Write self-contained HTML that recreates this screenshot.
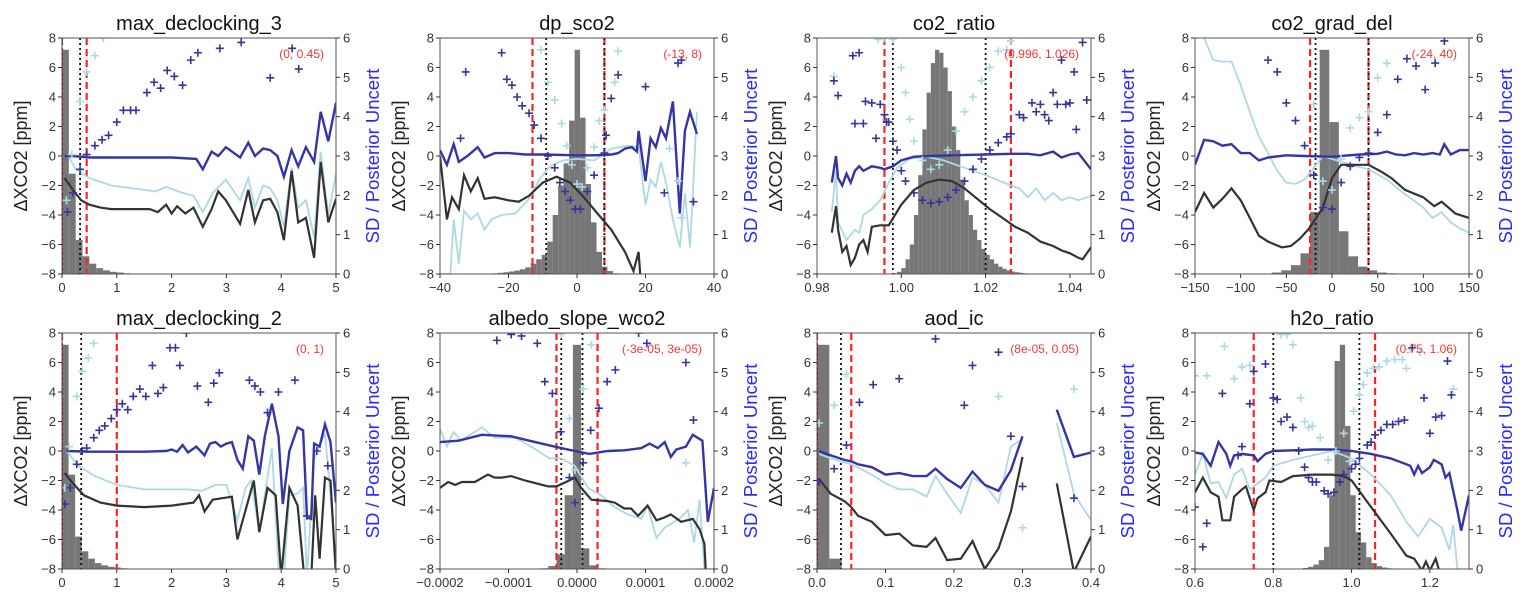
<!DOCTYPE html>
<html><head><meta charset="utf-8"><style>
body{margin:0;background:#fff}
svg{display:block;font-family:"Liberation Sans",sans-serif}
</style></head><body>
<svg id="fig" width="1523" height="603" viewBox="0 0 1523 603"></svg>
<script>
// ---- data (left axis units ppm -8..8; markers drawn in same frame) ----
const titles=["max_declocking_3","dp_sco2","co2_ratio","co2_grad_del","max_declocking_2","albedo_slope_wco2","aod_ic","h2o_ratio"];
const xDomains=[[0,5],[-40,40],[0.98,1.045],[-150,150],[0,5],[-0.0002,0.0002],[0,0.4],[0.6,1.3]];
const xTicks=[[0,1,2,3,4,5],[-40,-20,0,20,40],[0.98,1.00,1.02,1.04],[-150,-100,-50,0,50,100,150],[0,1,2,3,4,5],[-0.0002,-0.0001,0,0.0001,0.0002],[0,0.1,0.2,0.3,0.4],[0.6,0.8,1.0,1.2]];
const xTickLabels=[["0","1","2","3","4","5"],["−40","−20","0","20","40"],["0.98","1.00","1.02","1.04"],["−150","−100","−50","0","50","100","150"],["0","1","2","3","4","5"],["−0.0002","−0.0001","0.0000","0.0001","0.0002"],["0.0","0.1","0.2","0.3","0.4"],["0.6","0.8","1.0","1.2"]];
const yTicksL=[-8,-6,-4,-2,0,2,4,6,8];
const yTicksR=[0,1,2,3,4,5,6];
const annotations=["(0, 0.45)","(-13, 8)","(0.996, 1.026)","(-24, 40)","(0, 1)","(-3e-05, 3e-05)","(8e-05, 0.05)","(0.75, 1.06)"];
const redLines=[[0,0.45],[-13,8],[0.996,1.026],[-24,40],[0,1],[-3e-5,3e-5],[0,0.05],[0.75,1.06]];
const dotLines=[[0,0.33],[-9,8],[0.998,1.02],[-18,40],[0,0.35],[-2.3e-5,0.8e-5],[0,0.035],[0.8,1.02]];
// histogram: start, bin width, bar tops (ppm)
const histStart=[0,-26.3,0.998,-66,0,-5.4e-5,0,0.862];
const histWidth=[0.125,1.6,0.001,10.5,0.12,1.2e-5,0.018,0.0135];
const histTops=[
[7.2,-1.2,-5.7,-6.8,-7.3,-7.6,-7.75,-7.85,-7.9,-7.95,-7.97,-7.98,-7.99],
[-7.97,-7.95,-7.92,-7.88,-7.83,-7.77,-7.68,-7.55,-7.3,-7.0,-6.7,-5.8,-4.0,-2.0,-0.5,2.4,7.2,2.6,-1.9,-4.5,-6.5,-7.5,-7.8,-7.95],
[-7.95,-7.85,-7.6,-7.0,-6.0,-4.0,-1.3,1.8,4.3,6.3,7.2,7.0,6.0,4.4,2.0,0.4,-1.6,-3.0,-4.0,-5.0,-5.7,-6.3,-6.7,-7.0,-7.3,-7.5,-7.65,-7.75,-7.83,-7.88,-7.92,-7.95,-7.97,-7.98,-7.99],
[-7.9,-7.75,-7.4,-6.6,-3.8,7.2,2.3,-5.1,-6.8,-7.5,-7.75,-7.9,-7.95],
[7.2,-1.6,-5.8,-6.8,-7.3,-7.6,-7.75,-7.85,-7.9,-7.95,-7.97],
[-7.95,-7.8,-7.0,-3.0,7.2,-6.6,-7.75,-7.95],
[7.2,-7.3],
[-7.97,-7.93,-7.85,-7.7,-7.4,-6.5,-3.0,6.1,7.2,1.7,-3.0,-5.5,-6.2,-7.2,-7.6,-7.8,-7.9,-7.95]];
const lineNavy=[
[[0.05,0],[0.2,0],[0.5,-0.1],[1,-0.1],[2,-0.1],[2.45,-0.2],[2.57,-0.9],[2.73,0.3],[2.85,0],[2.99,0.6],[3.25,-0.1],[3.4,0.9],[3.52,0],[3.67,0.5],[3.8,0.4],[3.93,0],[4.05,-1.4],[4.19,0.4],[4.31,-0.7],[4.45,0.6],[4.6,-0.4],[4.72,3.0],[4.86,1.0],[5,3.6]],
[[-40,0.4],[-38,-0.6],[-36,0.8],[-34.5,-0.4],[-32,0],[-29,0.6],[-27,-0.1],[-24,0.2],[-20,0.2],[-15,0.1],[-10,0.1],[0,0.05],[5,0.05],[10,0.1],[12,0.2],[14,0.5],[16,0.6],[17.5,0.3],[18,1.7],[20,-1.7],[21.5,1.2],[23,0.6],[24.5,1.9],[26,1.2],[28,3.7],[30,-3.9],[31.5,1.7],[33,3.0],[35,1.5]],
[[0.9835,-1.8],[0.9845,0],[0.985,-1.5],[0.986,-2.0],[0.987,-1.2],[0.988,-1.8],[0.989,-1.0],[0.990,-0.7],[0.991,-1.0],[0.993,-0.7],[0.995,-0.8],[0.996,-0.9],[0.998,-0.7],[1.000,-0.3],[1.003,-0.05],[1.007,0],[1.012,0.05],[1.02,0.1],[1.026,0.15],[1.03,0.15],[1.033,0.05],[1.036,0.3],[1.038,-0.1],[1.04,0.1],[1.042,0.2],[1.045,-0.9]],
[[-150,-0.6],[-140,1.1],[-130,1.0],[-120,0.7],[-110,0.8],[-100,0.2],[-90,0.2],[-80,-0.3],[-70,-0.1],[-50,0.05],[-30,0],[0,-0.05],[30,0.1],[50,0.15],[60,0.3],[70,0.1],[80,0.05],[90,0.2],[100,0.1],[110,0.2],[118,0.1],[123,0.8],[130,0.1],[140,0.4],[150,0.4]],
[[0.08,0],[0.5,-0.05],[1,-0.05],[1.5,-0.05],[1.9,0],[2.0,0.1],[2.1,-0.05],[2.2,0.4],[2.3,-0.1],[2.45,0.3],[2.6,-0.3],[2.7,0.5],[2.8,0.6],[2.9,0.3],[3.0,0.5],[3.1,0.6],[3.2,-0.6],[3.3,-1.2],[3.4,1.0],[3.5,0.7],[3.6,-1.6],[3.7,1.0],[3.83,3.2],[3.95,1.0],[4.03,-3.6],[4.15,0],[4.3,1.6],[4.4,1.4],[4.47,-4.5],[4.55,-4.6],[4.6,0.5],[4.7,0.3],[4.8,1.8],[4.9,0.6],[5,-3.5]],
[[-20e-5,0.6],[-17.3e-5,0.7],[-13.9e-5,1.1],[-9.6e-5,1.0],[-5.2e-5,0.5],[-2.3e-5,0.2],[-0.3e-5,0],[1.8e-5,-0.2],[4.5e-5,0],[6.9e-5,0.05],[9.4e-5,0.2],[10.6e-5,0.5],[11.8e-5,0.2],[12.8e-5,0.6],[13.7e-5,-0.4],[14.5e-5,0.1],[15.9e-5,0.3],[16.9e-5,1.1],[18.3e-5,0.7],[19.1e-5,-4.8],[20e-5,-2.5]],
[[0.003,0],[0.02,-0.3],[0.04,-0.6],[0.05,-0.7],[0.06,-0.9],[0.08,-1.1],[0.1,-1.6],[0.12,-1.5],[0.14,-1.7],[0.16,-1.7],[0.173,-1.2],[0.19,-1.9],[0.21,-2.5],[0.227,-1.4],[0.245,-2.3],[0.265,-2.7],[0.283,-1.3],[0.3,1.0],null,[0.35,2.8],[0.375,-0.4],[0.4,-0.1]],
[[0.6,-0.1],[0.62,-0.2],[0.64,-1.0],[0.66,0.6],[0.68,-0.2],[0.69,-1.0],[0.7,-0.3],[0.72,-0.2],[0.75,-0.3],[0.76,-0.7],[0.78,-0.2],[0.8,0],[0.85,0.05],[0.9,0.1],[0.95,0.1],[1.0,0],[1.05,-0.2],[1.1,-0.5],[1.15,-1.0],[1.16,-1.6],[1.17,-1.0],[1.18,-1.5],[1.2,-1.1],[1.21,-0.6],[1.23,-0.9],[1.24,-1.8],[1.25,-1.5],[1.27,-4.0],[1.28,-5.4],[1.3,-3.0]]];
const lineLight=[
[[0.1,0.1],[0.25,-0.9],[0.5,-1.5],[0.9,-2.0],[1.3,-2.2],[1.7,-2.4],[1.9,-2.1],[2.2,-2.5],[2.4,-2.7],[2.57,-3.8],[2.75,-2.5],[2.99,-1.6],[3.25,-3.0],[3.4,-1.5],[3.52,-3.5],[3.67,-2.0],[3.8,-2.2],[3.93,-3.0],[4.05,-4.8],[4.19,-0.8],[4.31,-3.5],[4.45,-3.0],[4.6,-5.5],[4.72,0.3],[4.86,-4.0],[5,-1.2]],
[[-40,-8],[-37,-8],[-36,-4.3],[-34.5,-7.3],[-33,-3.7],[-31,-4.3],[-29,-3.9],[-27,-5.0],[-25,-4.3],[-22,-4.0],[-18,-3.9],[-14,-2.9],[-11,-1.6],[-8,-0.7],[-4,-0.3],[0,-0.2],[5,-0.3],[10,0.5],[15,0.7],[18,0.6],[20,-3.3],[21.5,-1.6],[23,-2.1],[24.5,-0.4],[26,-1.8],[28,-4.3],[30,-6.2],[31.5,-2.5],[33,-6.2],[35,3.0]],
[[0.9835,-3.8],[0.9845,-1.0],[0.985,-4.5],[0.987,-5.7],[0.989,-5.0],[0.990,-5.2],[0.991,-4.0],[0.993,-3.6],[0.995,-3.0],[0.997,-1.8],[0.999,-0.8],[1.002,-0.2],[1.006,-0.05],[1.010,-0.3],[1.014,-0.7],[1.02,-1.3],[1.026,-2.0],[1.028,-2.2],[1.030,-2.8],[1.032,-2.2],[1.034,-3.0],[1.036,-2.5],[1.038,-3.0],[1.04,-2.8],[1.042,-3.0],[1.045,-2.7]],
[[-150,9],[-140,8],[-130,6.5],[-120,6.4],[-110,6.4],[-100,4.8],[-90,3.0],[-80,1.3],[-70,0.2],[-60,-1.0],[-50,-1.8],[-40,-1.9],[-30,-1.6],[-20,-0.8],[-10,0],[0,-0.2],[20,-0.6],[40,-0.9],[60,-1.6],[80,-2.6],[100,-3.5],[110,-4.2],[120,-3.8],[130,-4.5],[140,-4.9],[150,-5.2]],
[[0.08,0],[0.3,-1.0],[0.6,-1.7],[1,-2.3],[1.5,-2.6],[2,-2.6],[2.3,-2.6],[2.55,-2.7],[2.8,-2.3],[3.0,-2.3],[3.2,-4.7],[3.35,-2.5],[3.45,-2.0],[3.6,-5.5],[3.7,-3.0],[3.83,0.2],[3.95,-8],[4.05,-8.5],[4.15,-3.0],[4.3,-2.9],[4.4,-2.5],[4.47,-8.5],[4.6,-0.5],[4.8,1.2],[4.9,-3.0],[5,-8]],
[[-20e-5,1.5],[-19e-5,0.3],[-18e-5,1.3],[-17e-5,0.7],[-13.9e-5,1.6],[-12e-5,0.9],[-9e-5,0.9],[-6.7e-5,0.3],[-4e-5,-0.5],[-2.3e-5,-0.5],[-0.3e-5,-1.0],[1.6e-5,-2.5],[3.5e-5,-3.0],[5.5e-5,-3.8],[7.4e-5,-4.3],[9.4e-5,-4.6],[10.3e-5,-3.7],[11.6e-5,-5.9],[12.8e-5,-5.2],[15.2e-5,-4.5],[16.2e-5,-4.0],[17.1e-5,-6.2],[17.9e-5,-3.3],[18.6e-5,-8]],
[[0.003,-0.2],[0.02,-0.5],[0.05,-0.9],[0.08,-1.6],[0.1,-2.2],[0.12,-2.6],[0.14,-2.6],[0.16,-3.1],[0.173,-1.7],[0.19,-2.9],[0.21,-4.2],[0.227,-1.8],[0.245,-2.3],[0.265,-3.5],[0.283,0.3],[0.3,0.8],null,[0.35,1.9],[0.375,-2.9],[0.4,-4.7]],
[[0.6,-1.6],[0.62,-0.2],[0.64,-2.2],[0.66,-2.1],[0.68,-3.2],[0.7,-1.6],[0.72,-1.2],[0.74,-2.6],[0.76,-2.2],[0.78,-1.8],[0.8,-1.0],[0.85,-0.6],[0.9,-0.3],[0.95,0],[1.0,-0.5],[1.05,-1.6],[1.1,-3.0],[1.14,-4.8],[1.17,-5.8],[1.2,-4.6],[1.23,-5.2],[1.25,-6.7],[1.26,-5.0],[1.27,-8.0]]];
const lineBlack=[
[[0.05,-1.5],[0.2,-2.3],[0.35,-3.0],[0.5,-3.3],[0.7,-3.5],[0.9,-3.6],[1.2,-3.6],[1.6,-3.6],[1.75,-3.8],[1.9,-3.3],[2.0,-3.9],[2.1,-3.4],[2.25,-3.9],[2.4,-3.5],[2.57,-4.8],[2.73,-3.6],[2.85,-2.4],[2.99,-3.0],[3.25,-4.6],[3.4,-2.3],[3.52,-4.5],[3.67,-3.0],[3.8,-2.9],[3.93,-3.8],[4.05,-5.7],[4.19,-1.0],[4.31,-4.5],[4.45,-4.2],[4.6,-6.9],[4.72,-0.4],[4.86,-4.5],[5,-2.9]],
[[-40,0],[-38,-4.3],[-36.5,-2.8],[-34.5,-3.6],[-33,-1.3],[-31,-2.4],[-29,-1.5],[-27,-2.9],[-24,-2.8],[-20,-3.0],[-17,-3.1],[-14,-2.7],[-10,-1.8],[-6,-1.4],[-2,-1.8],[2,-2.8],[6,-3.9],[10,-5.0],[14,-6.5],[16.5,-7.8],[18,-6.5],[18.5,-8.2]],
[[0.9835,-5.2],[0.9845,-3.4],[0.985,-5.0],[0.986,-6.5],[0.987,-6.1],[0.988,-7.4],[0.989,-6.9],[0.990,-6.0],[0.991,-5.7],[0.992,-6.5],[0.993,-4.8],[0.995,-4.7],[0.997,-4.7],[1.000,-3.3],[1.003,-2.3],[1.006,-1.8],[1.009,-1.6],[1.012,-1.7],[1.015,-2.2],[1.018,-2.9],[1.021,-3.6],[1.024,-4.2],[1.027,-4.8],[1.030,-5.2],[1.033,-5.8],[1.036,-6.1],[1.038,-6.4],[1.04,-6.6],[1.042,-6.9],[1.043,-7.0],[1.045,-6.2]],
[[-150,-3.8],[-140,-2.5],[-130,-3.5],[-120,-2.9],[-110,-2.2],[-100,-3.0],[-90,-4.2],[-80,-5.4],[-70,-5.8],[-55,-6.2],[-45,-6.1],[-35,-5.6],[-25,-4.9],[-10,-3.5],[0,-1.5],[10,-0.6],[40,-0.6],[55,-1.1],[65,-1.5],[80,-2.3],[100,-2.8],[112,-3.4],[120,-3.1],[135,-3.9],[150,-4.2]],
[[0.05,-1.5],[0.2,-2.2],[0.4,-3.0],[0.7,-3.5],[1,-3.7],[1.5,-3.8],[2,-3.7],[2.4,-3.5],[2.5,-3.0],[2.6,-4.1],[2.75,-3.3],[3.1,-3.1],[3.2,-6.0],[3.35,-4.0],[3.5,-2.0],[3.6,-5.5],[3.75,-2.5],[3.9,-3.0],[4.0,-8.5],[4.15,-2.5],[4.3,-3.7],[4.42,-8.5],[4.55,-8.5],[4.62,-3.0],[4.7,-7.3],[4.8,-1.8],[4.9,-2.0],[5,-8.5]],
[[-20e-5,-2.5],[-18.8e-5,-2.1],[-17.8e-5,-2.3],[-16.8e-5,-2.1],[-14.9e-5,-2.1],[-13e-5,-1.6],[-12e-5,-1.8],[-11e-5,-1.8],[-9.6e-5,-1.7],[-7.6e-5,-2.0],[-4.2e-5,-2.4],[-3e-5,-2.4],[-1.6e-5,-2.1],[-0.3e-5,-1.8],[0.6e-5,-2.5],[2.1e-5,-3.3],[4.5e-5,-3.4],[5.5e-5,-3.5],[6.9e-5,-3.9],[7.9e-5,-3.9],[8.9e-5,-4.4],[10.3e-5,-3.7],[11.6e-5,-4.7],[12.8e-5,-4.5],[13.7e-5,-4.3],[15.2e-5,-4.8],[16.9e-5,-4.6],[17.9e-5,-5.3],[18.6e-5,-6.3],[18.8e-5,-8.2]],
[[0.003,-1.9],[0.02,-2.9],[0.04,-3.4],[0.05,-3.8],[0.06,-4.4],[0.08,-4.8],[0.1,-5.7],[0.12,-5.6],[0.14,-6.4],[0.16,-6.5],[0.173,-5.9],[0.19,-7.4],[0.21,-7.3],[0.227,-6.1],[0.245,-8.0],[0.265,-6.6],[0.283,-4.1],[0.3,-0.4],null,[0.35,-2.2],[0.375,-8.2],[0.4,-5.8]],
[[0.6,-2.8],[0.62,-1.8],[0.64,-2.8],[0.66,-3.1],[0.67,-4.7],[0.69,-4.7],[0.7,-3.1],[0.72,-2.6],[0.73,-2.4],[0.75,-4.0],[0.76,-3.2],[0.78,-2.8],[0.79,-2.0],[0.82,-2.1],[0.85,-1.7],[0.9,-1.6],[0.95,-1.6],[0.98,-1.7],[1.0,-2.0],[1.05,-3.8],[1.1,-5.6],[1.14,-7.1],[1.16,-7.3],[1.18,-8.1],[1.19,-7.5],[1.2,-8.1],[1.215,-7.3],[1.225,-8.2]]];
const marksNavy=[
[[0.1,-3.8],[0.2,-2.5],[0.33,-0.9],[0.45,0.1],[0.6,0.7],[0.73,1.1],[0.85,1.4],[1.0,2.3],[1.12,3.1],[1.25,3.1],[1.35,3.1],[1.55,4.3],[1.68,5.0],[1.8,4.6],[1.92,5.8],[2.05,5.4],[2.2,4.8],[2.35,6.5],[2.48,7.0],[2.88,7.3],[3.27,7.7],[3.8,5.3],[4.2,7.3],[4.32,5.9]],
[[-34,1.2],[-32.5,5.7],[-22,7.0],[-20.5,5.2],[-19,4.8],[-17.5,4.0],[-16,3.4],[-14,2.9],[-12.5,2.1],[-10.5,1.2],[-8.5,0],[-6.5,-0.8],[-5,-1.8],[-3.5,-2.4],[-2,-3.0],[-0.5,-3.6],[1,-3.6],[3,-2.4],[5,-1.3],[8,0.2],[8.5,1.4],[10,3.9],[12,5.5],[20,4.7],[25.5,-2.5],[29.5,6.3],[30.5,6.5],[34,-3.1]],
[[0.984,5.1],[0.985,4.1],[0.9885,6.8],[0.990,7.0],[0.989,2.2],[0.991,2.2],[0.9915,3.7],[0.993,3.6],[0.994,1.2],[0.995,3.5],[0.996,2.8],[0.9965,2.3],[0.997,2.3],[0.998,1.0],[0.999,0.4],[1.0,-1.0],[1.001,-1.7],[1.003,-2.5],[1.005,-3.0],[1.007,-3.2],[1.009,-3.1],[1.011,-2.8],[1.013,-2.3],[1.015,-1.7],[1.017,-0.9],[1.019,-0.2],[1.021,0.4],[1.023,0.9],[1.025,1.3],[1.026,1.5],[1.028,2.8],[1.029,2.6],[1.031,3.6],[1.032,3.0],[1.033,3.5],[1.034,2.8],[1.035,2.4],[1.036,4.3],[1.037,3.5],[1.038,6.5],[1.039,3.5],[1.040,3.6],[1.041,5.7],[1.0415,1.8],[1.043,7.7],[1.044,3.8]],
[[-70,6.5],[-60,5.7],[-50,3.6],[-40,2.4],[-30,0.7],[-20,-1.3],[-10,-3.5],[0,-3.6],[10,-1.8],[20,-0.7],[30,-0.1],[40,0.2],[50,1.6],[60,2.8],[72,5.2],[82,6.6],[92,6.1],[102,4.5],[113,6.3],[123,7.8]],
[[0.05,-3.6],[0.15,-2.5],[0.27,-0.9],[0.37,0],[0.45,0.2],[0.58,0.9],[0.68,1.4],[0.78,1.7],[0.9,2.2],[1.0,2.8],[1.1,3.2],[1.2,2.8],[1.3,3.7],[1.42,4.2],[1.53,3.7],[1.65,5.8],[1.75,3.9],[1.85,4.3],[1.97,7.0],[2.07,7.0],[2.15,5.8],[2.27,8.0],[2.47,4.4],[2.67,3.3],[2.77,4.6],[2.87,5.3],[3.42,4.8],[3.52,4.4],[3.62,4.0],[3.75,2.6],[3.95,4.0],[4.25,4.8],[4.47,-4.4],[4.65,0],[4.85,-1.0]],
[[-11.7e-5,7.5],[-9.6e-5,7.9],[-8.1e-5,7.8],[-5.8e-5,7.3],[-4.7e-5,4.7],[-3.6e-5,3.9],[-2.4e-5,1.3],[-1.1e-5,-1.8],[-0.3e-5,-3.5],[0.9e-5,-0.8],[2.0e-5,1.4],[3.2e-5,2.9],[4.4e-5,4.7],[5.6e-5,5.5],[9.0e-5,8.0],[10.2e-5,7.3],[15.9e-5,6.0],[17.0e-5,2.1]],
[[0.003,-2.1],[0.025,-1.2],[0.043,0.4],[0.062,3.3],[0.082,4.5],[0.12,4.9],[0.173,7.6],[0.215,3.1],[0.227,5.8],[0.265,6.7],[0.283,1.0],[0.3,-2.4],[0.375,-3.2]],
[[0.6,-3.8],[0.62,-6.5],[0.63,-4.9],[0.67,3.9],[0.71,-0.3],[0.72,0.3],[0.74,3.2],[0.75,5.4],[0.78,5.9],[0.8,3.6],[0.81,3.5],[0.82,2.0],[0.835,2.3],[0.85,1.6],[0.865,0],[0.88,-1.1],[0.89,-1.8],[0.9,-2.1],[0.91,-2.1],[0.93,-2.7],[0.94,-2.9],[0.955,-2.8],[0.97,-2.1],[0.98,-1.6],[1.0,-1.2],[1.01,-0.9],[1.02,-0.5],[1.04,0.4],[1.05,0.6],[1.06,1.1],[1.075,1.4],[1.09,1.8],[1.105,1.8],[1.12,2.0],[1.135,2.1],[1.155,7.0],[1.185,3.6],[1.2,1.2],[1.215,2.3],[1.23,2.4],[1.245,6.1],[1.255,3.8]]];
const marksLight=[
[[0.08,-3.0],[0.18,0.1],[0.33,3.7],[0.45,5.7],[0.6,6.8],[0.75,8.0]],
[[-10.5,7.2],[-8.5,5.0],[-6.5,3.8],[-4.5,2.2],[-3,0.7],[-1.5,-0.6],[0,-1.9],[1.5,-2.1],[3,-0.8],[5,0.6],[6.5,2.4],[8,3.1],[11,5.0],[12,7.1],[27,0.5],[29.5,-1.7],[30.5,-4.2]],
[[0.984,5.4],[0.9945,7.9],[0.996,8.0],[0.998,7.9],[1.0,6.0],[1.001,4.3],[1.002,2.5],[1.003,1.0],[1.005,-0.3],[1.007,-0.9],[1.009,-0.6],[1.011,0.4],[1.013,1.7],[1.015,3.0],[1.017,4.0],[1.019,5.1],[1.021,6.0],[1.023,7.1],[1.025,7.2],[1.026,7.8]],
[[-20,3.5],[-10,-1.7],[0,-2.3],[10,-0.2],[20,1.9],[30,2.6],[40,3.0],[50,5.3],[60,6.3]],
[[0.05,-2.5],[0.13,0.3],[0.27,3.7],[0.37,5.4],[0.48,6.3],[0.58,7.3]],
[[-2.3e-5,7.9],[-1.1e-5,2.2],[-0.3e-5,-1.3],[0.9e-5,4.2],[2.1e-5,7.2],[15.9e-5,-0.8]],
[[0.003,1.9],[0.025,3.1],[0.043,5.2],[0.265,3.7],[0.3,-5.2],[0.375,4.2]],
[[0.6,5.1],[0.63,5.1],[0.675,7.1],[0.7,4.9],[0.72,5.7],[0.74,5.8],[0.82,7.9],[0.835,7.9],[0.85,7.2],[0.87,3.6],[0.88,2.0],[0.89,1.6],[0.9,1.7],[0.92,0.9],[0.94,-0.6],[0.96,0],[0.98,1.2],[0.995,-0.7],[1.005,2.7],[1.02,3.8],[1.03,4.5],[1.04,5.3],[1.055,5.6],[1.07,5.7],[1.09,6.1],[1.11,6.2],[1.13,6.2],[1.14,5.6],[1.15,6.9],[1.175,6.7],[1.26,4.2]]];

// ---- layout ----
const panelLefts=[62,440,817,1195], panelTops=[38,333], PW=274, PH=236;
const NS="http://www.w3.org/2000/svg";
const svg=document.getElementById('fig');
function mk(tag,attrs,parent){const e=document.createElementNS(NS,tag);for(const k in attrs)e.setAttribute(k,attrs[k]);(parent||svg).appendChild(e);return e;}
const defs=mk('defs',{});

for(let p=0;p<8;p++){
  const L=panelLefts[p%4], T=panelTops[Math.floor(p/4)], R=L+PW, B=T+PH;
  const [x0,x1]=xDomains[p];
  const X=v=>L+(v-x0)/(x1-x0)*PW;
  const Y=v=>B-(v+8)/16*PH;
  const YR=v=>B-v/6*PH;
  const g=mk('g',{});
  
  
  const cp=mk('clipPath',{id:'c'+p},defs); mk('rect',{x:L,y:T,width:PW,height:PH},cp);
  const plot=mk('g',{'clip-path':'url(#c'+p+')'},g);
  const hg=mk('g',{},plot);
  
  
  histTops[p].forEach((h,i)=>{
    const a=histStart[p]+i*histWidth[p], b=a+histWidth[p];
    const r=mk('rect',{x:X(a),y:Y(h),width:Math.max(0,X(b)-X(a)),height:Math.max(0,B-Y(h)),fill:'#777'},hg);
    
    
  });
  redLines[p].forEach(v=>{const l=mk('line',{x1:X(v),x2:X(v),y1:T,y2:B,stroke:'#f22','stroke-width':2.2,'stroke-dasharray':'7,4'},plot);
    
    });
  dotLines[p].forEach(v=>{const l=mk('line',{x1:X(v),x2:X(v),y1:T,y2:B,stroke:'#111','stroke-width':1.8,'stroke-dasharray':'2,3'},plot);
    
    });
  function path(pts){let d='',pen=false;pts.forEach(pt=>{if(!pt){pen=false;return;}d+=(pen?'L':'M')+X(pt[0]).toFixed(1)+','+Y(pt[1]).toFixed(1);pen=true;});return d;}
  const ll=mk('path',{d:path(lineLight[p]),fill:'none',stroke:'#add8e6','stroke-width':1.8},plot);
  
  
  const lb=mk('path',{d:path(lineBlack[p]),fill:'none',stroke:'#333','stroke-width':2.2},plot);
  
  
  const ln=mk('path',{d:path(lineNavy[p]),fill:'none',stroke:'#3535a5','stroke-width':2.4},plot);
  
  
  function marks(arr,col,name){arr.forEach(pt=>{const x=X(pt[0]),y=Y(pt[1]);
    const m=mk('path',{d:`M${x-4},${y}H${x+4}M${x},${y-4}V${y+4}`,stroke:col,'stroke-width':1.6},plot);
    
    });}
  marks(marksLight[p],'#add8e6','marker-light');
  marks(marksNavy[p],'#35359e','marker-navy');
  mk('rect',{x:L,y:T,width:PW,height:PH,fill:'none',stroke:'#555','stroke-width':1},g);
  yTicksL.forEach(v=>{const y=Y(v);mk('line',{x1:L-4,x2:L,y1:y,y2:y,stroke:'#333'},g);
    const t=mk('text',{x:L-6,y:y+4.5,'text-anchor':'end','font-size':13,fill:'#333'},g);t.textContent=(v<0?'−':'')+Math.abs(v);
    
    });
  yTicksR.forEach(v=>{const y=YR(v);mk('line',{x1:R,x2:R+4,y1:y,y2:y,stroke:'#333'},g);
    const t=mk('text',{x:R+7,y:y+4.5,'font-size':13,fill:'#333'},g);t.textContent=v;
    
    });
  xTicks[p].forEach((v,i)=>{const x=X(v);mk('line',{x1:x,x2:x,y1:B,y2:B+4,stroke:'#333'},g);
    const t=mk('text',{x:x,y:B+18,'text-anchor':'middle','font-size':13,fill:'#333'},g);t.textContent=xTickLabels[p][i];
    
    });
  const tt=mk('text',{x:L+PW/2,y:T-8,'text-anchor':'middle','font-size':20,fill:'#111'},g);tt.textContent=titles[p];
  
  
  const yl=mk('text',{transform:`translate(${L-35},${T+PH/2}) rotate(-90)`,'text-anchor':'middle','font-size':18,fill:'#222'},g);yl.textContent='ΔXCO2 [ppm]';
  
  
  const yr=mk('text',{transform:`translate(${R+43},${T+PH/2}) rotate(-90)`,'text-anchor':'middle','font-size':18.5,fill:'#2a2aff'},g);yr.textContent='SD / Posterior Uncert';
  
  
  const an=mk('text',{x:R-12,y:T+20,'text-anchor':'end','font-size':12,fill:'#f33'},g);an.textContent=annotations[p];
  
  
}
</script>
</body></html>
